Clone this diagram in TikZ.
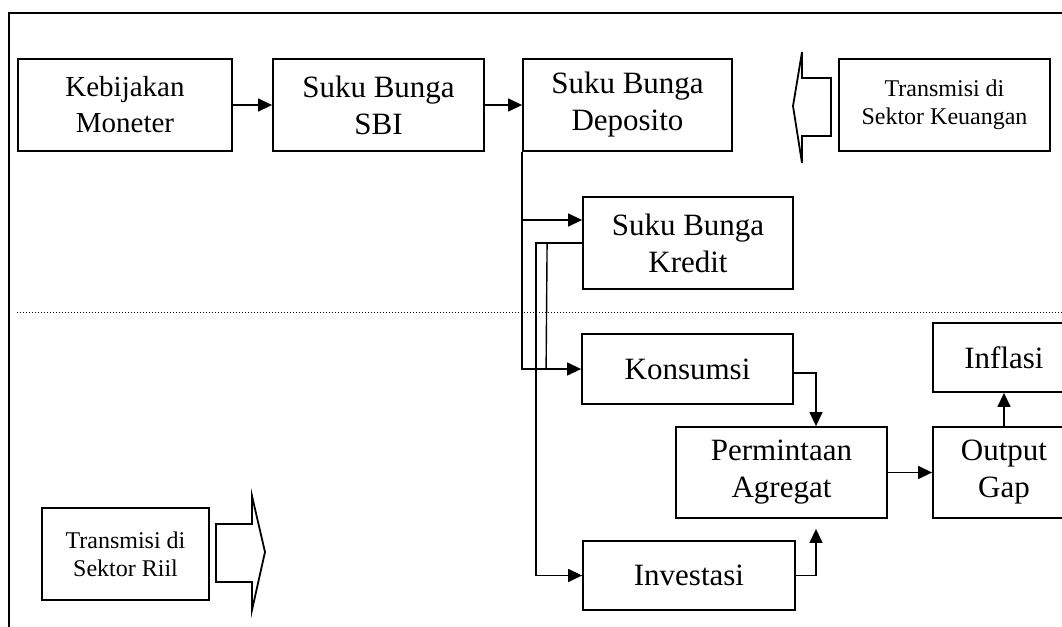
\documentclass[tikz,border=0pt]{standalone}
\usepackage{fontspec}
\setmainfont{Liberation Serif}
\usetikzlibrary{arrows.meta, calc}

\begin{document}
\begin{tikzpicture}[x=0.5pt, y=-0.5pt, >={Triangle[length=7pt, width=6.5pt]},
  blok/.style={draw, line width=0.9pt, align=center, inner sep=0pt,
    font=\fontsize{15.5}{18.5}\selectfont},
  kecil/.style={blok, font=\fontsize{12}{14}\selectfont},
  garis/.style={line width=0.7pt},
  panah/.style={garis, ->}]
  \useasboundingbox (0,0) rectangle (1062,627);
  \clip (0,0) rectangle (1062,627);
  % Frame and divider
  \draw[line width=0.85pt] (9,640) -- (9,13) -- (1080,13);
  \draw[densely dotted, line width=0.5pt] (17,312) -- (1062,312);
  % Financial sector
  \node[blok, minimum width=107pt, minimum height=46pt, font=\fontsize{14.5}{18}\selectfont]
    (kebijakan) at (125,105) {Kebijakan\\Moneter};
  \node[blok, minimum width=105.5pt, minimum height=46pt] (sbi) at (378.5,105) {Suku Bunga\\SBI};
  \node[blok, minimum width=104.5pt, minimum height=46pt] (deposito) at (627.5,105) {Suku Bunga\\Deposito};
  \node[kecil, minimum width=105.5pt, minimum height=46pt] (keuangan) at (944.5,105) {Transmisi di\\Sektor Keuangan};
  \node[blok, minimum width=105pt, minimum height=46pt] (kredit) at (688,243) {Suku Bunga\\Kredit};
  % Real sector
  \node[blok, minimum width=105.5pt, minimum height=35pt] (konsumsi) at (687.5,369) {Konsumsi};
  \node[blok, minimum width=106pt, minimum height=34.5pt] (investasi) at (689,575.5) {Investasi};
  \node[blok, minimum width=105.5pt, minimum height=45.5pt] (permintaan) at (781.5,472.5) {Permintaan\\Agregat};
  \node[blok, minimum width=71pt, minimum height=45.5pt] (output) at (1004,472.5) {Output\\Gap};
  \node[blok, minimum width=71pt, minimum height=34.5pt] (inflasi) at (1004,357.5) {Inflasi};
  \node[kecil, minimum width=83.5pt, minimum height=46pt] (riil) at (125.5,554) {Transmisi di\\Sektor Riil};
  % Connectors
  \draw[panah] (kebijakan) -- (sbi);
  \draw[panah] (sbi) -- (deposito);
  \draw[panah] (deposito.south west) |- (konsumsi);
  \coordinate (kr) at ($(kredit.west)+(0,-23)$);
  \draw[panah] (deposito.south west |- kr) -- (kr);
  \draw[panah] (kredit.west) -- ++(-46,0) |- (investasi);
  \draw[garis] ($(kredit.west)+(-35,0)$) -- ($(konsumsi.west)+(-35,0)$);
  \draw[panah] ($(konsumsi.east)+(0,4)$) -| ($(permintaan.north)+(34.5,0)$);
  \draw[panah, shorten >=5pt] (investasi) -| ($(permintaan.south)+(34.5,0)$);
  \draw[panah] (permintaan) -- (output);
  \draw[panah] (output) -- (inflasi);
  % Block arrows
  \draw[line width=0.9pt] (831,78) -- (802,78) -- (802,52) -- (793,106) -- (802,163)
    -- (802,136) -- (831,136) -- cycle;
  \draw[line width=0.9pt] (216,524) -- (252,524) -- (252,496) -- (265,552) -- (252,610)
    -- (252,582) -- (216,582) -- cycle;
\end{tikzpicture}
\end{document}
